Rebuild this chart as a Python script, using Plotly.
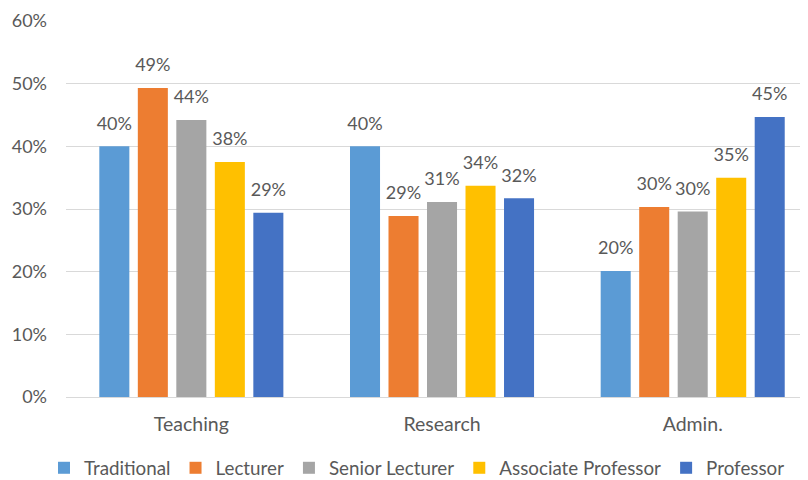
import plotly.graph_objects as go

categories = ["Teaching", "Research", "Admin."]
series_names = ["Traditional", "Lecturer", "Senior Lecturer", "Associate Professor", "Professor"]
traditional = [0.40, 0.40, 0.201]
lecturer = [0.493, 0.289, 0.303]
senior_lecturer = [0.442, 0.311, 0.296]
associate_professor = [0.375, 0.337, 0.350]
professor = [0.294, 0.317, 0.447]
y_ticks = [0, 0.1, 0.2, 0.3, 0.4, 0.5, 0.6]

colors = ["#5B9BD5", "#ED7D31", "#A5A5A5", "#FFC000", "#4472C4"]
all_values = [traditional, lecturer, senior_lecturer, associate_professor, professor]

FONT = "Lato"
TXT = "#595959"
NUM_FS = 18
WORD_FS = 19.5
LEG_FS = 18.8
GAP = 0.232

fig = go.Figure()
for name, vals, col in zip(series_names, all_values, colors):
    fig.add_trace(go.Bar(
        x=categories, y=vals, name=name,
        marker=dict(color=col, line=dict(width=0)),
        hoverinfo="skip",
    ))
# value labels, grouped like the bars, lifted above the bar tops
for name, vals in zip(series_names, all_values):
    fig.add_trace(go.Scatter(
        x=categories, y=vals, mode="markers+text", showlegend=False,
        text=[f"{v:.0%}" for v in vals], textposition="top center",
        textfont=dict(family=FONT, size=NUM_FS, color=TXT),
        marker=dict(size=18, opacity=0),
        cliponaxis=False, hoverinfo="skip",
    ))

fig.update_layout(
    width=800, height=472,
    margin=dict(l=58, r=8, t=13, b=83, autoexpand=False),
    paper_bgcolor="white", plot_bgcolor="white",
    barmode="group", bargap=GAP, bargroupgap=0.22,
    scattermode="group", scattergap=GAP,
    font=dict(family=FONT, color=TXT, size=NUM_FS),
    showlegend=True,
    legend=dict(orientation="h", x=-0.03, xanchor="left",
                y=-0.189, yanchor="middle",
                font=dict(family=FONT, size=LEG_FS, color=TXT), traceorder="normal",
                itemwidth=30),
    xaxis=dict(range=[-0.5, 2.428], showgrid=False, showline=False, ticks="",
               ticklabelstandoff=13,
               tickfont=dict(family=FONT, size=WORD_FS, color=TXT)),
    yaxis=dict(range=[0, 0.6], tickvals=y_ticks, tickformat=".0%",
               showgrid=True, gridcolor="#D9D9D9", gridwidth=1,
               zeroline=True, zerolinecolor="#D9D9D9", zerolinewidth=1,
               showline=False, ticks="", ticklabelstandoff=18,
               tickfont=dict(family=FONT, size=NUM_FS, color=TXT)),
)

fig.write_html("out.html")
